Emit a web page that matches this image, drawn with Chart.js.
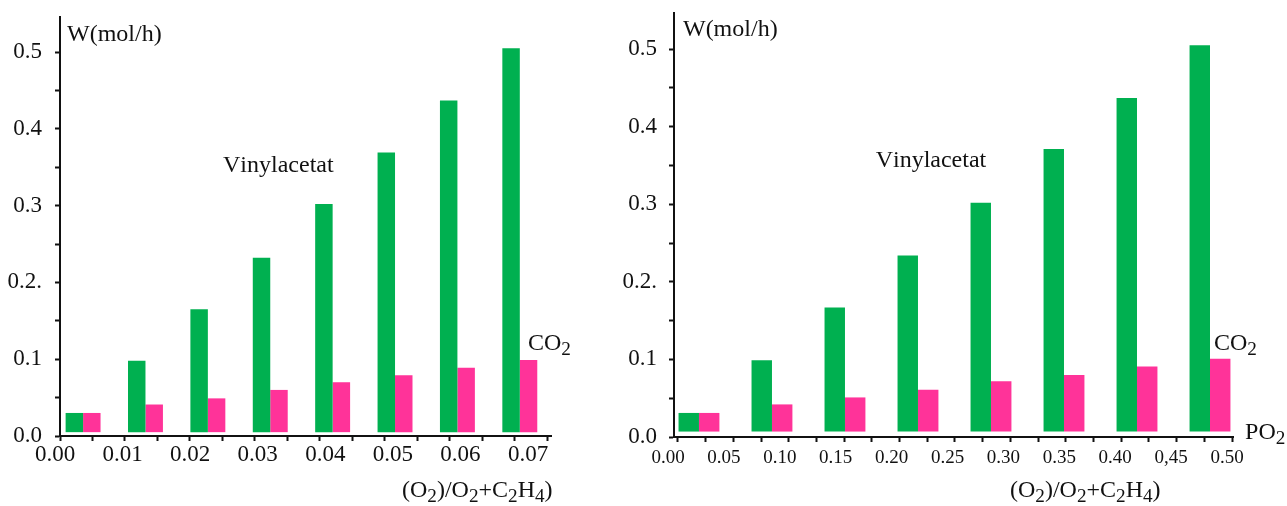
<!DOCTYPE html>
<html><head><meta charset="utf-8">
<script src="https://cdn.jsdelivr.net/npm/chart.js@4.4.1/dist/chart.umd.min.js"></script>
<style>
html,body{margin:0;padding:0;background:#fff;width:1287px;height:506px;overflow:hidden}
#l{position:absolute;left:0;top:0;width:615px;height:506px}
#r{position:absolute;left:615px;top:0;width:672px;height:506px}
</style></head><body>
<div id="l"><canvas id="cl"></canvas></div>
<div id="r"><canvas id="cr"></canvas></div>
<script>
// ---- data ----
const groups = ['1','2','3','4','5','6','7','8'];
const vinylLeft  = [0.030, 0.098, 0.165, 0.232, 0.302, 0.369, 0.437, 0.505];
const co2Left    = [0.030, 0.041, 0.049, 0.060, 0.070, 0.079, 0.089, 0.099];
const vinylRight = [0.031, 0.099, 0.167, 0.234, 0.302, 0.371, 0.437, 0.505];
const co2Right   = [0.031, 0.042, 0.051, 0.061, 0.072, 0.080, 0.091, 0.101];
const xTickLabelsLeft  = ['0.00','0.01','0.02','0.03','0.04','0.05','0.06','0.07'];
const xTickLabelsRight = ['0.00','0.05','0.10','0.15','0.20','0.25','0.30','0.35','0.40','0,45','0.50'];
const yTickLabels = ['0.0','0.1','0.2.','0.3','0.4','0.5'];

const GREEN = '#00B050';
const PINK = '#FF3399';
const INK = '#111';
const FONT = "'Liberation Serif', 'Times New Roman', serif";
Chart.defaults.font.family = FONT;
Chart.defaults.color = INK;

const SUBS = {'₀':'0','₁':'1','₂':'2','₃':'3','₄':'4','₅':'5'};
function notesPlugin(items){
  return {
    id:'notes',
    afterDraw(chart){
      const ctx = chart.ctx, xs = chart.scales.xb, ys = chart.scales.y;
      ctx.save();
      ctx.fillStyle = INK; ctx.textBaseline = 'alphabetic'; ctx.textAlign = 'left';
      for (const n of items){
        let x = xs.getPixelForValue(n.x);
        const y = ys.getPixelForValue(n.y);
        for (const ch of n.text){
          const sub = SUBS[ch];
          const size = sub ? n.size*0.8 : n.size;
          ctx.font = size + 'px ' + FONT;
          const t = sub || ch;
          ctx.fillText(t, x, sub ? y + n.size*0.2 : y);
          x += ctx.measureText(t).width;
        }
      }
      ctx.restore();
    }
  };
}

function noPad(s){ s.paddingTop = 0; s.paddingBottom = 0; }

function makeChart(canvas, c){
  return new Chart(canvas, {
    type:'bar',
    data:{
      labels: groups,
      datasets:[
        {label:'Vinylacetat', data:c.vinyl.map((v,i)=>({x:i,y:v})), backgroundColor:GREEN,
         xAxisID:'xb', yAxisID:'y', base:c.base, categoryPercentage:0.56, barPercentage:1},
        {label:'CO₂', data:c.co2.map((v,i)=>({x:i,y:v})), backgroundColor:PINK,
         xAxisID:'xb', yAxisID:'y', base:c.base, categoryPercentage:0.56, barPercentage:1}
      ]
    },
    options:{
      responsive:true, maintainAspectRatio:false, animation:false,
      layout:{padding:{top:c.top, right:c.right, left:0, bottom:0}},
      plugins:{legend:{display:false}, tooltip:{enabled:false}},
      scales:{
        xb:{type:'linear', position:'bottom', display:false, offset:false, min:c.bMin, max:c.bMax,
            grid:{offset:false},
            ticks:{stepSize:1, includeBounds:false, maxTicksLimit:40}},
        xm:{type:'linear', position:'bottom', weight:0, offset:false, min:c.mMin, max:c.mMax,
            border:{display:true, color:INK, width:2},
            grid:{display:true, offset:false, drawOnChartArea:false, drawTicks:true, tickLength:5, tickWidth:2, tickColor:INK},
            ticks:{display:false, stepSize:1, includeBounds:false, maxTicksLimit:40},
            afterFit:s=>{s.height=5;}},
        xl:{type:'linear', position:'bottom', weight:1, offset:false, min:0, max:c.lMax,
            border:{display:false}, grid:{display:false, offset:false, drawTicks:false},
            ticks:{stepSize:c.lStep, includeBounds:false, maxTicksLimit:40, autoSkip:false,
                   maxRotation:0, minRotation:0, labelOffset:c.lOff, padding:c.lPad,
                   font:{size:c.lSize}, color:INK, callback:(v,i)=>c.xLabels[i]},
            afterFit:s=>{s.height=c.lH;}},
        y:{type:'linear', position:'left', min:0, max:c.yMax,
           border:{display:true, color:INK, width:2},
           grid:{display:true, drawOnChartArea:false, drawTicks:true, tickLength:5, tickWidth:2, tickColor:INK},
           ticks:{stepSize:0.05, includeBounds:false, maxTicksLimit:40, autoSkip:false,
                  padding:c.yPad, font:{size:23}, color:INK,
                  callback:(v,i)=> i%2===0 ? yTickLabels[i/2] : ''},
           afterFit:s=>{s.width=c.yW; noPad(s);}}
      }
    },
    plugins:[notesPlugin(c.notes)]
  });
}

makeChart(document.getElementById('cl'), {
  vinyl:vinylLeft, co2:co2Left, base:0.005,
  top:17, right:64, yW:60, yMax:0.5456, yPad:13,
  bMin:-0.37, bMax:7.5, mMin:0, mMax:15.11,
  lMax:0.07266, lStep:0.01, lOff:-5, lPad:0, lSize:23, lH:65,
  xLabels:xTickLabelsLeft,
  notes:[
    {text:'W(mol/h)', x:-0.258, y:0.5147, size:24},
    {text:'Vinylacetat', x:2.243, y:0.344, size:24},
    {text:'CO₂', x:7.131, y:0.112, size:24},
    {text:'(O₂)/O₂+C₂H₄)', x:5.112, y:-0.0794, size:24}
  ]
});

makeChart(document.getElementById('cr'), {
  vinyl:vinylRight, co2:co2Right, base:0.007,
  top:13, right:54, yW:59, yMax:0.5464, yPad:12,
  bMin:-0.342, bMax:7.315, mMin:-0.144, mMax:20.036,
  lMax:0.5, lStep:0.05, lOff:-6, lPad:5, lSize:19, lH:64,
  xLabels:xTickLabelsRight,
  notes:[
    {text:'W(mol/h)', x:-0.219, y:0.517, size:24},
    {text:'Vinylacetat', x:2.420, y:0.348, size:24},
    {text:'CO₂', x:7.055, y:0.112, size:24},
    {text:'PO₂', x:7.480, y:-0.0026, size:24},
    {text:'(O₂)/O₂+C₂H₄)', x:4.261, y:-0.0773, size:24}
  ]
});
</script>
</body></html>
